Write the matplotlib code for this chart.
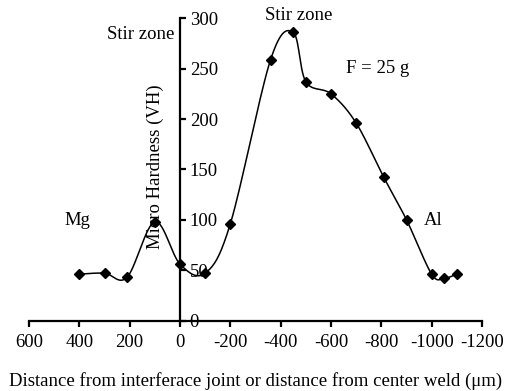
import numpy as np
import matplotlib.pyplot as plt

plt.rcParams['font.family'] = ['Liberation Serif', 'DejaVu Serif']
plt.rcParams['axes.unicode_minus'] = False

# distance (um) and micro hardness (VH)
distance = [400, 300, 210, 100, 0, -100, -200, -360, -450, -500, -600, -700, -810, -900, -1000, -1050, -1100]
hardness = [46, 47, 43, 98, 56, 47, 96, 259, 286, 237, 225, 196, 142, 100, 46, 42, 46]

x_ticks = [600, 400, 200, 0, -200, -400, -600, -800, -1000, -1200]
y_ticks = [0, 50, 100, 150, 200, 250, 300]


def smooth(x, y, sx, sy, n=30):
    """ Excel-like smoothed line (Catmull-Rom / Bezier) done in screen units """
    p = np.column_stack([np.asarray(x, float) * sx, np.asarray(y, float) * sy])
    out = [p[0]]
    for i in range(len(p) - 1):
        p0 = p[i - 1] if i > 0 else p[i]
        p1, p2 = p[i], p[i + 1]
        p3 = p[i + 2] if i + 2 < len(p) else p[i + 1]
        c1 = p1 + (p2 - p0) / 6
        c2 = p2 - (p3 - p1) / 6
        t = np.linspace(0, 1, n)[1:, None]
        seg = (1 - t) ** 3 * p1 + 3 * (1 - t) ** 2 * t * c1 + 3 * (1 - t) * t ** 2 * c2 + t ** 3 * p2
        out.extend(seg)
    out = np.array(out)
    return out[:, 0] / sx, out[:, 1] / sy


fig = plt.figure(figsize=(5.15, 3.91), dpi=100)
ax = fig.add_axes([29 / 515, 1 - 320.5 / 391, 453 / 515, 302.2 / 391])

sx, sy = 453 / 1800, 302.2 / 300
xs, ys = smooth(distance, hardness, sx, sy)
ax.plot(xs, ys, color='black', lw=1.1, zorder=2)
ax.plot(distance, hardness, ls='none', marker='D', ms=5, color='black', zorder=3)

ax.set_xlim(600, -1200)
ax.set_ylim(0, 300)
ax.set_xticks(x_ticks)
ax.set_yticks(y_ticks)

ax.spines['top'].set_visible(False)
ax.spines['left'].set_visible(False)
ax.spines['right'].set_position(('data', 0))
ax.spines['right'].set_linewidth(1.6)
ax.spines['bottom'].set_linewidth(1.6)
ax.yaxis.tick_right()
ax.tick_params(axis='both', direction='out', length=4, width=1.6, labelsize=13.5)
ax.tick_params(axis='y', pad=3)
ax.tick_params(axis='x', pad=6)

ax.text(0.278, 0.508, 'Micro Hardness (VH)', transform=ax.transAxes, rotation=90,
        ha='center', va='center', fontsize=13.5)
fig.text(255.5 / 515, 1 - 386 / 391, 'Distance from interferace joint or distance from center weld (\u03bcm)',
         ha='center', va='baseline', fontsize=13.5)

ax.text(22, 279, 'Stir zone', ha='right', va='baseline', fontsize=13.5)
ax.text(-470, 298, 'Stir zone', ha='center', va='baseline', fontsize=13.5, clip_on=False)
ax.text(-659, 246, 'F = 25 g', ha='left', va='baseline', fontsize=13.5)
ax.text(459, 95, 'Mg', ha='left', va='baseline', fontsize=13.5)
ax.text(-970, 95, 'Al', ha='left', va='baseline', fontsize=13.5)

fig.savefig('out.png', dpi=100)
